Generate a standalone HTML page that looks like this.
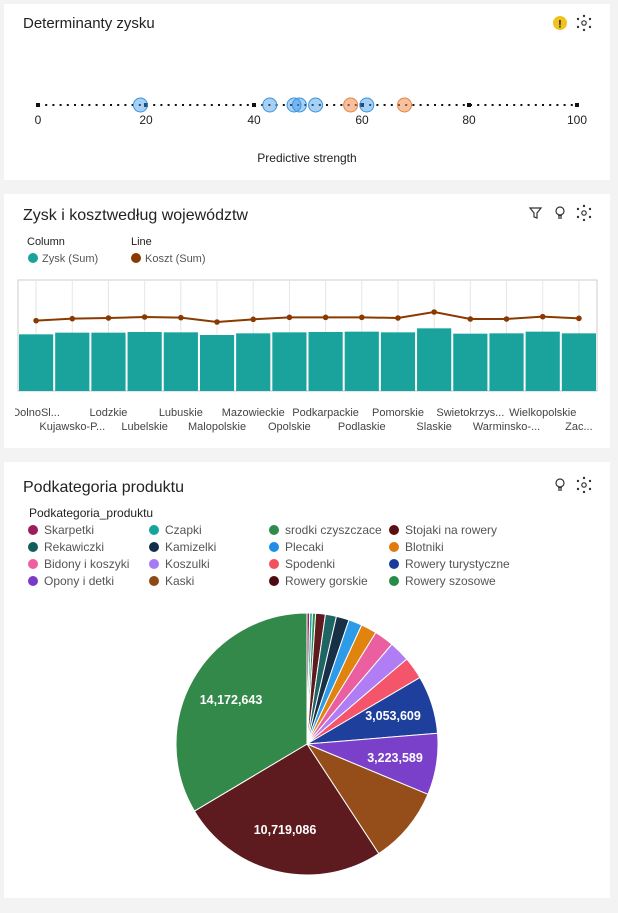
<!DOCTYPE html>
<html><head><meta charset="utf-8"><style>
body{margin:0;background:#f3f3f3;width:618px;height:908px;overflow:hidden;font-family:"Liberation Sans","DejaVu Sans",sans-serif}
svg text{font-family:"Liberation Sans","DejaVu Sans",sans-serif}
</style></head><body>
<svg width="618" height="908" xmlns="http://www.w3.org/2000/svg" id="s">
<rect x="4" y="4" width="606" height="176" fill="#fff"/>
<rect x="4" y="194" width="606" height="254" fill="#fff"/>
<rect x="4" y="462" width="606" height="436" fill="#fff"/>
<text x="23" y="28" font-size="15" fill="#222">Determinanty zysku</text>
<circle cx="560" cy="23" r="7" fill="#f1c21b"/><text x="560" y="27.5" font-size="11" font-weight="bold" text-anchor="middle" fill="#222">!</text>
<g fill="#333"><circle cx="584" cy="23" r="2.2" fill="none" stroke="#333" stroke-width="1.2"/><circle cx="584" cy="16" r="1.2"/><circle cx="590" cy="19" r="1.2"/><circle cx="590" cy="27" r="1.2"/><circle cx="584" cy="30" r="1.2"/><circle cx="578" cy="27" r="1.2"/><circle cx="578" cy="19" r="1.2"/></g>
<line x1="38" y1="105" x2="577" y2="105" stroke="#111" stroke-width="2" stroke-dasharray="2 5.2"/>
<g fill="#111"><rect x="36" y="103" width="4" height="4"/><rect x="144" y="103" width="4" height="4"/><rect x="252" y="103" width="4" height="4"/><rect x="360" y="103" width="4" height="4"/><rect x="467" y="103" width="4" height="4"/><rect x="575" y="103" width="4" height="4"/></g>
<g font-size="12" fill="#222" text-anchor="middle"><text x="38" y="124">0</text><text x="146" y="124">20</text><text x="254" y="124">40</text><text x="362" y="124">60</text><text x="469" y="124">80</text><text x="577" y="124">100</text>
<text x="307" y="162">Predictive strength</text></g>
<g id="bub"></g>
<text x="23" y="220" font-size="16" fill="#222">Zysk i kosztwedług województw</text>
<g fill="none" stroke="#333" stroke-width="1.2"><path d="M530 208h11l-4 5v5l-3 -1v-4z"/><circle cx="560" cy="211" r="4"/><path d="M558 216h4M558 218h4"/><circle cx="584" cy="213" r="2.2"/></g>
<g fill="#333"><circle cx="584" cy="206" r="1.2"/><circle cx="590" cy="209" r="1.2"/><circle cx="590" cy="217" r="1.2"/><circle cx="584" cy="220" r="1.2"/><circle cx="578" cy="217" r="1.2"/><circle cx="578" cy="209" r="1.2"/></g>
<g font-size="11" fill="#222"><text x="27" y="245">Column</text><text x="131" y="245">Line</text></g>
<circle cx="33" cy="258" r="5" fill="#1aa39d"/><text x="42" y="262" font-size="11" fill="#555">Zysk (Sum)</text>
<circle cx="136" cy="258" r="5" fill="#8a3a00"/><text x="145" y="262" font-size="11" fill="#555">Koszt (Sum)</text>
<rect x="18" y="280" width="579" height="111" fill="none" stroke="#ccc"/>
<g id="bars"></g>
<text x="23" y="492" font-size="16" fill="#222">Podkategoria produktu</text>
<g fill="none" stroke="#333" stroke-width="1.2"><circle cx="560" cy="483" r="4"/><path d="M558 488h4M558 490h4"/><circle cx="584" cy="485" r="2.2"/></g>
<g fill="#333"><circle cx="584" cy="478" r="1.2"/><circle cx="590" cy="481" r="1.2"/><circle cx="590" cy="489" r="1.2"/><circle cx="584" cy="492" r="1.2"/><circle cx="578" cy="489" r="1.2"/><circle cx="578" cy="481" r="1.2"/></g>
<text x="29" y="517" font-size="12" fill="#222">Podkategoria_produktu</text>
<g id="leg"></g>
<g id="pie"></g>
</svg>
<script>
var NS="http://www.w3.org/2000/svg";
function el(p,t,a,txt){var e=document.createElementNS(NS,t);for(var k in a)e.setAttribute(k,a[k]);if(txt)e.textContent=txt;document.getElementById(p).appendChild(e);return e;}
[[19,0],[43,0],[47.5,0],[48.5,0],[51.5,0],[61,0],[58,1],[68,1]].forEach(function(b){var x=38+b[0]*5.39;
el("bub","circle",{cx:x,cy:105,r:7,fill:b[1]?"rgba(240,140,80,0.55)":"rgba(60,150,230,0.45)",stroke:b[1]?"#e8843f":"#3a95e0","stroke-width":1});});
var bt=[193,188,188,186,187,195,190,187,186,185,187,175,191,190,185,190];
var ly=[152,146,144,141,143,156,148,142,142,142,144,126,147,147,140,145];
var names=["DolnoSl...","Kujawsko-P...","Lodzkie","Lubelskie","Lubuskie","Malopolskie","Mazowieckie","Opolskie","Podkarpackie","Podlaskie","Pomorskie","Slaskie","Swietokrzys...","Warminsko-...","Wielkopolskie","Zac..."];
var w=579/16,pts=[];
for(var i=0;i<16;i++){var cx=18+w*i+w/2;el("bars","line",{x1:cx,y1:281,x2:cx,y2:390,stroke:"#e6e6e6"});}
for(var i=0;i<16;i++){var x=18+w*i,cx=x+w/2,t=270+bt[i]/3;
el("bars","rect",{x:x+1,y:t,width:w-2,height:391-t,fill:"#1aa39d"});
var yy=270+ly[i]/3;pts.push(cx+","+yy);
el("bars","text",{x:cx,y:i%2?430:416,"font-size":11,fill:"#444","text-anchor":"middle"},names[i]);}
el("bars","polyline",{points:pts.join(" "),fill:"none",stroke:"#8a3a00","stroke-width":2});
pts.forEach(function(p){var q=p.split(",");el("bars","circle",{cx:q[0],cy:q[1],r:2.8,fill:"#8a3a00"});});
el("bars","rect",{x:4,y:400,width:11,height:20,fill:"#fff"});
var L=[["Skarpetki","#9c1e5e"],["Czapki","#16a39b"],["srodki czyszczace","#2e8b49"],["Stojaki na rowery","#5a0f12"],
["Rekawiczki","#0f5e5a"],["Kamizelki","#142d4a"],["Plecaki","#1f8ee8"],["Blotniki","#e07a0c"],
["Bidony i koszyki","#ee5ea0"],["Koszulki","#a879f5"],["Spodenki","#f5505e"],["Rowery turystyczne","#1a3a9e"],
["Opony i detki","#7a3ac8"],["Kaski","#8e4a12"],["Rowery gorskie","#4a0c10"],["Rowery szosowe","#2a8a48"]];
var cx=[33,154,274,394];
L.forEach(function(l,i){var c=i%4,r=Math.floor(i/4),y=530+r*17;
el("leg","circle",{cx:cx[c],cy:y,r:5,fill:l[1]});el("leg","text",{x:cx[c]+11,y:y+4,"font-size":12,fill:"#555"},l[0]);});
var A=[0,1.2,2.4,3.8,8.1,13.0,18.7,24.7,31.7,40.4,49.6,59.5,85.3,112.6,146.8,239.2,360];
var C=["#9c1e5e","#16a39b","#2e8b49","#5e1a1e","#1e6563","#183047","#2d9be8","#e0830f","#ea5fa0","#b07df5","#f4556a","#1f3f9c","#7b40c9","#954e1a","#5e1b1f","#33894a"];
var X=307,Y=744,R=131;
function P(a){a=a*Math.PI/180;return [X+R*Math.sin(a),Y-R*Math.cos(a)];}
for(var i=0;i<16;i++){var p=P(A[i]),q=P(A[i+1]),lg=(A[i+1]-A[i])>180?1:0;
el("pie","path",{d:"M"+X+","+Y+"L"+p[0]+","+p[1]+"A"+R+","+R+" 0 "+lg+" 1 "+q[0]+","+q[1]+"Z",fill:C[i],stroke:"#fff","stroke-width":1});}
[["14,172,643",231,704],["10,719,086",285,834],["3,053,609",393,720],["3,223,589",395,762]].forEach(function(t){
el("pie","text",{x:t[1],y:t[2],"font-size":12.5,"font-weight":"bold",fill:"#fff","text-anchor":"middle"},t[0]);});
</script>
</body></html>
